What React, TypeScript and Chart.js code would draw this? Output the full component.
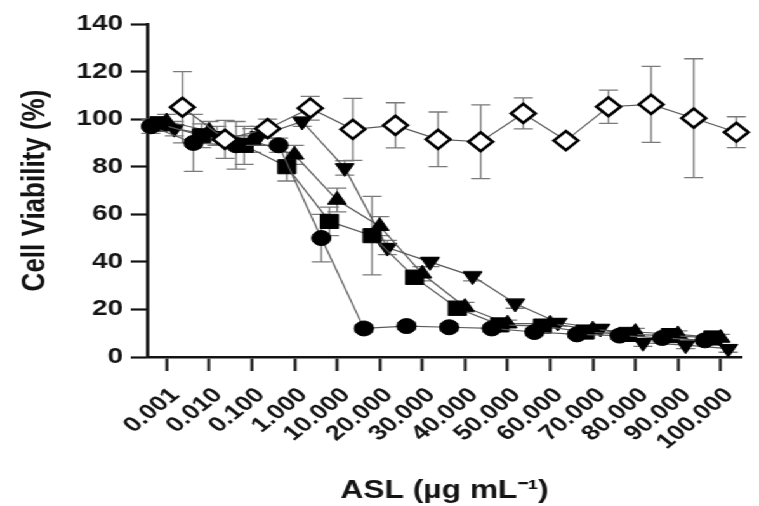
import React, { useEffect, useRef } from 'react';
import { Chart, registerables } from 'chart.js';

Chart.register(...registerables);

// ---- data ----
const categories = ['0.001', '0.010', '0.100', '1.000', '10.000', '20.000', '30.000', '40.000', '50.000', '60.000', '70.000', '80.000', '90.000', '100.000'];

const circleValues = [97, 90, 89, 89, 50, 12, 13, 12.5, 12, 10.5, 9.5, 9, 8, 7];
const circleErrors = [3, 12, 10, 3, 10, 1.5, 1.5, 1.5, 1.5, 1.5, 1.5, 1.5, 1.5, 1.5];

const squareValues = [98, 93, 89, 80, 57, 51, 33.5, 20.5, 13.5, 13, 10.5, 9.5, 9, 8];
const squareErrors = [3, 5, 8, 6, 6, 16.5, 3, 3, 1.5, 1.5, 1.5, 1.5, 1.5, 1.5];

const upTriangleValues = [99, 95, 91, 85, 66, 55, 35, 21, 14, 14, 11.5, 10.5, 9.5, 8];
const upTriangleErrors = [3, 4, 5, 4, 5, 4, 3, 2, 1.5, 1.5, 1.5, 1.5, 1.5, 1.5];

const downTriangleValues = [96, 93, 93, 99, 79.5, 46, 40, 34, 22.5, 14.5, 12, 6, 5, 3.5];
const downTriangleErrors = [3, 4, 4, 2, 3, 3, 2, 2, 2, 1.5, 1.5, 1.5, 1.5, 1.5];

const diamondValues = [105, 91.5, 96, 104.6, 95.7, 97.4, 91.5, 90.5, 102.4, 91, 105.2, 106.2, 100.4, 94.5];
const diamondErrors = [15, 8, 4, 5, 13, 9.5, 11.5, 15.5, 6.5, 1, 7, 16, 25, 6.5];

// grouping offsets of each series inside a category (in category units)
const groupOffsets = { circle: -0.37, square: -0.18, up: 0, down: 0.18, diamond: 0.37 };

const yTicks = [0, 20, 40, 60, 80, 100, 120, 140];

// ---- layout ----
const LOGICAL_W = 598;
const OUT_W = 759;
const H = 506;
const STRETCH = OUT_W / LOGICAL_W;
const FAMILY = '"Liberation Sans", Arial, Helvetica, sans-serif';
const INK = '#141414';

export default function App() {
  const ref = useRef<HTMLCanvasElement>(null);

  useEffect(() => {
    if (!ref.current) return;
    const mk = (vals: number[], off: number) => vals.map((v, i) => ({ x: i + off, y: v }));

    const errorBars = {
      id: 'errorBars',
      beforeDatasetsDraw(chart: any) {
        const { ctx, scales } = chart;
        const xs = scales.x;
        const ys = scales.y;
        ctx.save();
        ctx.strokeStyle = '#7a7a7a';
        ctx.lineWidth = 1.3;
        chart.data.datasets.forEach((ds: any) => {
          const errs: number[] = ds.errors || [];
          ds.data.forEach((p: any, i: number) => {
            const e = errs[i];
            if (!e) return;
            const px = xs.getPixelForValue(p.x);
            const top = ys.getPixelForValue(p.y + e);
            const bot = ys.getPixelForValue(Math.max(0, p.y - e));
            const cap = 7.5;
            ctx.beginPath();
            ctx.moveTo(px, top);
            ctx.lineTo(px, bot);
            ctx.moveTo(px - cap, top);
            ctx.lineTo(px + cap, top);
            ctx.moveTo(px - cap, bot);
            ctx.lineTo(px + cap, bot);
            ctx.stroke();
          });
        });
        ctx.restore();
      },
    };

    const base = {
      borderColor: '#5a5a5a',
      borderWidth: 1.2,
      showLine: true,
      fill: false,
      tension: 0,
      clip: false as const,
      pointBackgroundColor: '#000',
      pointBorderColor: '#000',
      pointBorderWidth: 1,
    };

    const chart = new Chart(ref.current, {
      type: 'line',
      data: {
        datasets: [
          {
            ...base,
            label: 'Diamond',
            data: mk(diamondValues, groupOffsets.diamond),
            errors: diamondErrors,
            pointStyle: 'rectRot',
            pointRadius: 9.5,
            pointBackgroundColor: '#fff',
            pointBorderColor: '#000',
            pointBorderWidth: 2.6,
          } as any,
          {
            ...base,
            label: 'Circle',
            data: mk(circleValues, groupOffsets.circle),
            errors: circleErrors,
            pointStyle: 'circle',
            pointRadius: 7.5,
          } as any,
          {
            ...base,
            label: 'Square',
            data: mk(squareValues, groupOffsets.square),
            errors: squareErrors,
            pointStyle: 'rect',
            pointRadius: 10,
          } as any,
          {
            ...base,
            label: 'Up triangle',
            data: mk(upTriangleValues, groupOffsets.up),
            errors: upTriangleErrors,
            pointStyle: 'triangle',
            pointRadius: 8.5,
          } as any,
          {
            ...base,
            label: 'Down triangle',
            data: mk(downTriangleValues, groupOffsets.down),
            errors: downTriangleErrors,
            pointStyle: 'triangle',
            pointRotation: 180,
            pointRadius: 8.5,
          } as any,
        ],
      },
      options: {
        animation: false,
        responsive: true,
        maintainAspectRatio: false,
        layout: { padding: { top: 24, right: 6, bottom: 0, left: 0 } },
        plugins: { legend: { display: false }, tooltip: { enabled: false } },
        scales: {
          x: {
            type: 'linear',
            min: -0.455,
            max: 13.5,
            afterBuildTicks: (s: any) => {
              s.ticks = categories.map((_, i) => ({ value: i }));
            },
            afterFit: (s: any) => {
              s.height = 149;
            },
            grid: {
              display: true,
              drawOnChartArea: false,
              drawTicks: true,
              tickLength: 14,
              tickWidth: 2.2,
              tickColor: INK,
            },
            border: { display: true, color: INK, width: 2.6 },
            ticks: {
              autoSkip: false,
              minRotation: 45,
              maxRotation: 45,
              padding: 12,
              labelOffset: 7,
              color: INK,
              font: { family: FAMILY, size: 21, weight: 'bold' },
              callback: (v: any) => categories[Math.round(Number(v))] ?? '',
            },
            title: {
              display: true,
              text: 'ASL (µg mL⁻¹)',
              color: INK,
              font: { family: FAMILY, size: 25, weight: 'bold' },
              padding: 0,
            },
          },
          y: {
            min: 0,
            max: 140,
            afterBuildTicks: (s: any) => {
              s.ticks = yTicks.map((v) => ({ value: v }));
            },
            afterFit: (s: any) => {
              s.width = 116;
            },
            grid: {
              display: true,
              drawOnChartArea: false,
              drawTicks: true,
              tickLength: 13,
              tickWidth: 2.2,
              tickColor: INK,
            },
            border: { display: true, color: INK, width: 2.6 },
            ticks: {
              padding: 6,
              color: INK,
              font: { family: FAMILY, size: 22, weight: 'bold' },
            },
            title: {
              display: true,
              text: 'Cell Viability (%)',
              color: INK,
              font: { family: FAMILY, size: 26, weight: 'bold' },
              padding: { top: 12, bottom: 0 },
            },
          },
        },
      } as any,
      plugins: [errorBars],
    });

    return () => chart.destroy();
  }, []);

  return (
    <div
      style={{
        position: 'absolute',
        left: 0,
        top: 0,
        width: LOGICAL_W,
        height: H,
        transform: `scaleX(${STRETCH})`,
        transformOrigin: '0 0',
        background: '#fff',
      }}
    >
      <canvas ref={ref} />
    </div>
  );
}
